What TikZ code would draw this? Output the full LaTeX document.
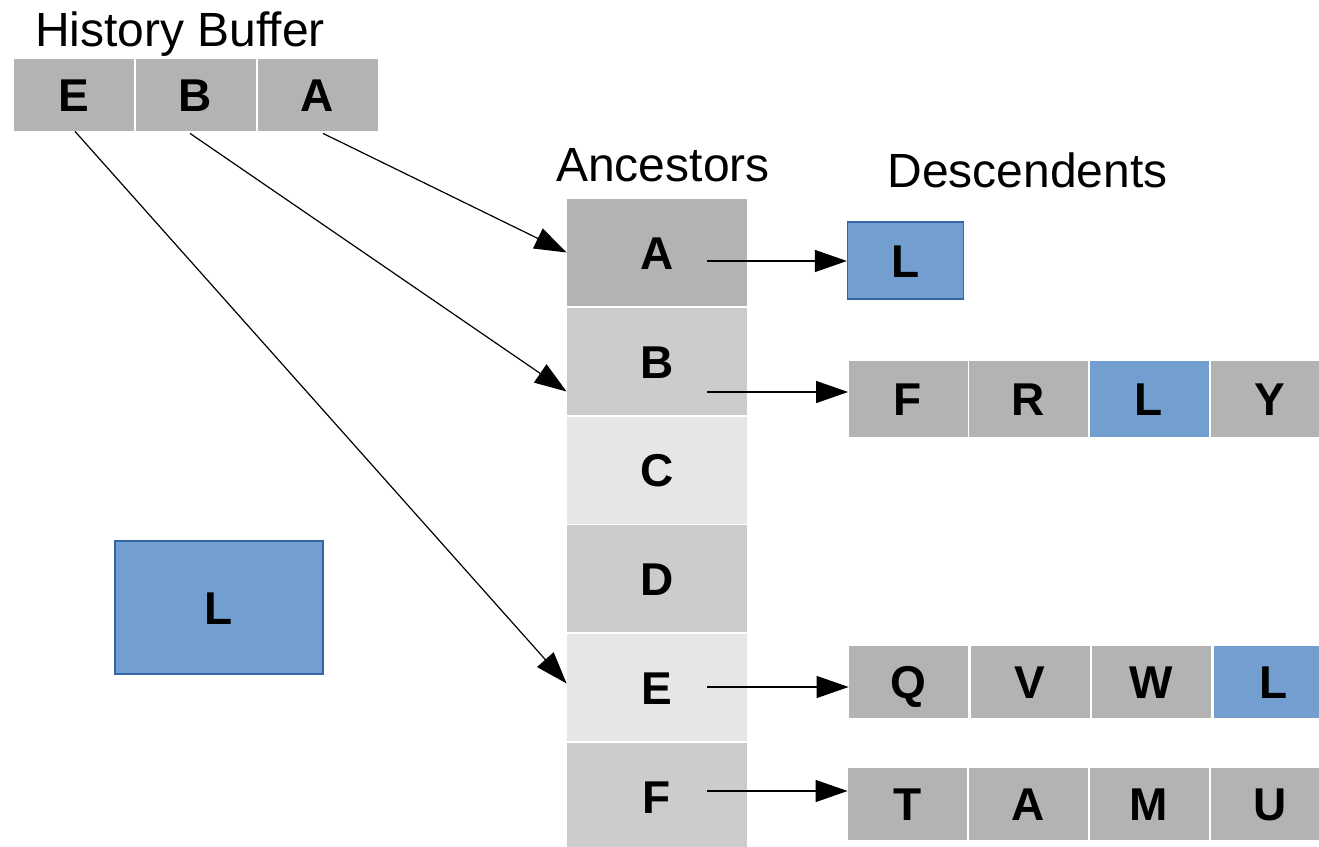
\documentclass[tikz,border=0pt]{standalone}
\usepackage{fontspec}
\setmainfont{Liberation Sans}
\usetikzlibrary{arrows.meta}
\definecolor{cellA}{HTML}{B3B3B3}
\definecolor{cellB}{HTML}{CCCCCC}
\definecolor{cellC}{HTML}{E6E6E6}
\definecolor{hit}{HTML}{729FCF}
\definecolor{hitedge}{HTML}{3465A4}
\begin{document}
\begin{tikzpicture}[x=0.5pt,y=-0.5pt,
  cell/.style={inner sep=0pt, fill=cellA,
    font=\fontsize{23}{27}\selectfont\bfseries,
    text height=16.6pt, text depth=0pt},
  histcell/.style={cell, minimum width=60pt, minimum height=36pt},
  anccell/.style={cell, minimum width=90pt, minimum height=53.5pt},
  desccell/.style={cell, minimum width=59.5pt},
  hitcell/.style={fill=hit},
  hitbox/.style={fill=hit, draw=hitedge, line width=0.6pt},
  title/.style={anchor=base, inner sep=0pt, font=\fontsize{24}{28}\selectfont},
  link/.style={line width=0.6pt, -{Triangle[length=16pt,width=11pt]}}]
\useasboundingbox (0,0) rectangle (1319,847);

% history buffer
\node[title] (htitle) at (180,46) {History Buffer};
\node[histcell] (h1) at (73.5,95) {E};
\node[histcell] (h2) at (195.5,95) {B};
\node[histcell] (h3) at (317.5,95) {A};

% ancestor column
\node[title] (atitle) at (663,181) {Ancestors};
\node[anccell, fill=cellA] (aA) at (657,252.5) {A};
\node[anccell, fill=cellB] (aB) at (657,361.5) {B};
\node[anccell, fill=cellC] (aC) at (657,470) {C};
\node[anccell, fill=cellB] (aD) at (657,578.5) {D};
\node[anccell, fill=cellC] (aE) at (657,687.5) {E};
\node[anccell, fill=cellB] (aF) at (657,796.5) {F};

% descendant lists
\node[title] (dtitle) at (1027.5,187) {Descendents};
\node[cell, hitbox, minimum width=58pt, minimum height=38.5pt] (dA) at (905.5,260.5) {L};

\begin{scope}[every node/.append style={desccell, minimum height=38pt}]
\node (dB1) at (908,399) {F};
\node (dB2) at (1028.5,399) {R};
\node[hitcell] (dB3) at (1149,399) {L};
\node (dB4) at (1270,399) {Y};
\end{scope}

\begin{scope}[every node/.append style={desccell, minimum height=36pt}]
\node (dE1) at (908.5,682) {Q};
\node (dE2) at (1030,682) {V};
\node (dE3) at (1151.5,682) {W};
\node[hitcell] (dE4) at (1273.5,682) {L};

\node (dF1) at (907.5,804) {T};
\node (dF2) at (1028,804) {A};
\node (dF3) at (1149,804) {M};
\node (dF4) at (1270,804) {U};
\end{scope}

% item being looked up
\node[cell, hitbox, minimum width=104pt, minimum height=66.5pt] (item) at (219,607.5) {L};

% history entries point to their ancestors
\draw[link] ([xshift=0.75pt]h1.south) -- ([yshift=2pt]aE.west);
\draw[link] ([xshift=-2.75pt,yshift=-1pt]h2.south) -- ([yshift=-15pt]aB.west);
\draw[link] ([xshift=2.75pt,yshift=-1pt]h3.south) -- (aA.west);

% ancestors point to their descendant lists
\coordinate (sA) at (707,261);
\coordinate (sB) at (707,392);
\coordinate (sE) at (707,687);
\coordinate (sF) at (707,791);
\draw[link] (sA) -- (dA.west |- sA);
\draw[link] (sB) -- (dB1.west |- sB);
\draw[link] (sE) -- (dE1.west |- sE);
\draw[link] (sF) -- (dF1.west |- sF);
\end{tikzpicture}
\end{document}
